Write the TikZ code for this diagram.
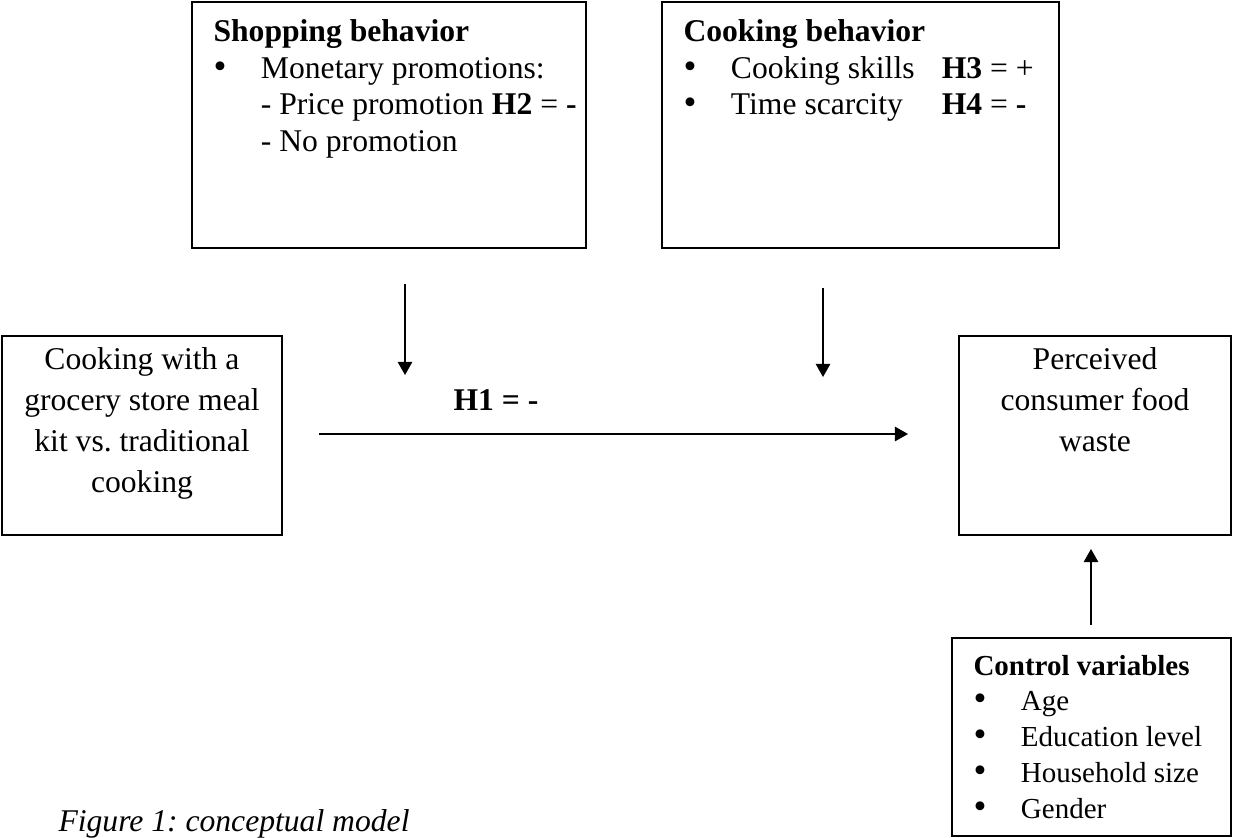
\documentclass[tikz,border=0pt]{standalone}
\usepackage{fontspec}
\setmainfont{Liberation Serif}
\usetikzlibrary{arrows.meta,fit}
\frenchspacing
\newcommand{\bul}{\makebox[18pt][l]{{\fontsize{14}{14}\selectfont\textbullet}}}
\begin{document}
\begin{tikzpicture}[x=0.01333cm,y=-0.01333cm,
        box/.style={draw,line width=0.75pt,inner sep=0pt},
        txt/.style={anchor=base west,inner sep=0pt,align=left,text width=5.4cm,font=\fontsize{12}{13.8}\selectfont,
            execute at begin node={\spaceskip=0pt\xspaceskip=0pt}},
        ctr/.style={anchor=base,inner sep=0pt,align=center,text width=3.6cm,font=\fontsize{12}{15.5}\selectfont,
            execute at begin node={\spaceskip=3pt\xspaceskip=3pt}},
        lbl/.style={anchor=base,inner sep=0pt,font=\fontsize{12}{13.8}\selectfont\bfseries},
        arr/.style={line width=0.6pt,-{Triangle[width=5.5pt,length=5pt]}}]
        \useasboundingbox (0,0) rectangle (1233,838);
        % boxes
        \node[box,fit={(192,2) (586,248)}] (shop) {};
        \node[box,fit={(662,2) (1059,248)}] (cook) {};
        \node[box,fit={(2,336) (282,535)}] (kit) {};
        \node[box,fit={(959,336) (1231,535)}] (waste) {};
        \node[box,fit={(952,638) (1231,836)}] (ctrl) {};
        % texts
        \node[txt] (shoptext) at (213,42) {\textbf{Shopping behavior}\\
            \bul Monetary promotions:\\
            \hspace*{18pt}- Price promotion \textbf{H2} = \textbf{-}\\
            \hspace*{18pt}- No promotion};
        \node[txt] (cooktext) at (683,42) {\textbf{Cooking behavior}\\
            \bul\makebox[80pt][l]{Cooking skills}\textbf{H3} = +\\
            \bul\makebox[80pt][l]{Time scarcity}\textbf{H4} = \textbf{-}};
        \node[ctr] (kittext) at (142,370) {Cooking with a\\grocery store meal\\kit vs. traditional\\cooking};
        \node[ctr] (wastetext) at (1095,370) {Perceived\\consumer food\\waste};
        \node[txt,font=\fontsize{11}{13.6}\selectfont] (ctrltext) at (973,675) {\textbf{Control variables}\\
            \bul Age\\
            \bul Education level\\
            \bul Household size\\
            \bul Gender};
        \node[lbl] (h1) at (496,411) {H1 = -};
        \node[txt] (caption) at (58,831) {\textit{Figure 1: conceptual model}};
        % arrows
        \coordinate (shopA) at (405,284);
        \coordinate (shopB) at (405,375);
        \coordinate (cookA) at (823,288);
        \coordinate (cookB) at (823,377);
        \coordinate (mainA) at (319,434);
        \coordinate (mainB) at (908,434);
        \coordinate (ctrlA) at (1091,625);
        \coordinate (ctrlB) at (1091,549);
        \draw[arr] (shopA) -- (shopB);
        \draw[arr] (cookA) -- (cookB);
        \draw[arr] (mainA) -- (mainB);
        \draw[arr] (ctrlA) -- (ctrlB);
\end{tikzpicture}
\end{document}
